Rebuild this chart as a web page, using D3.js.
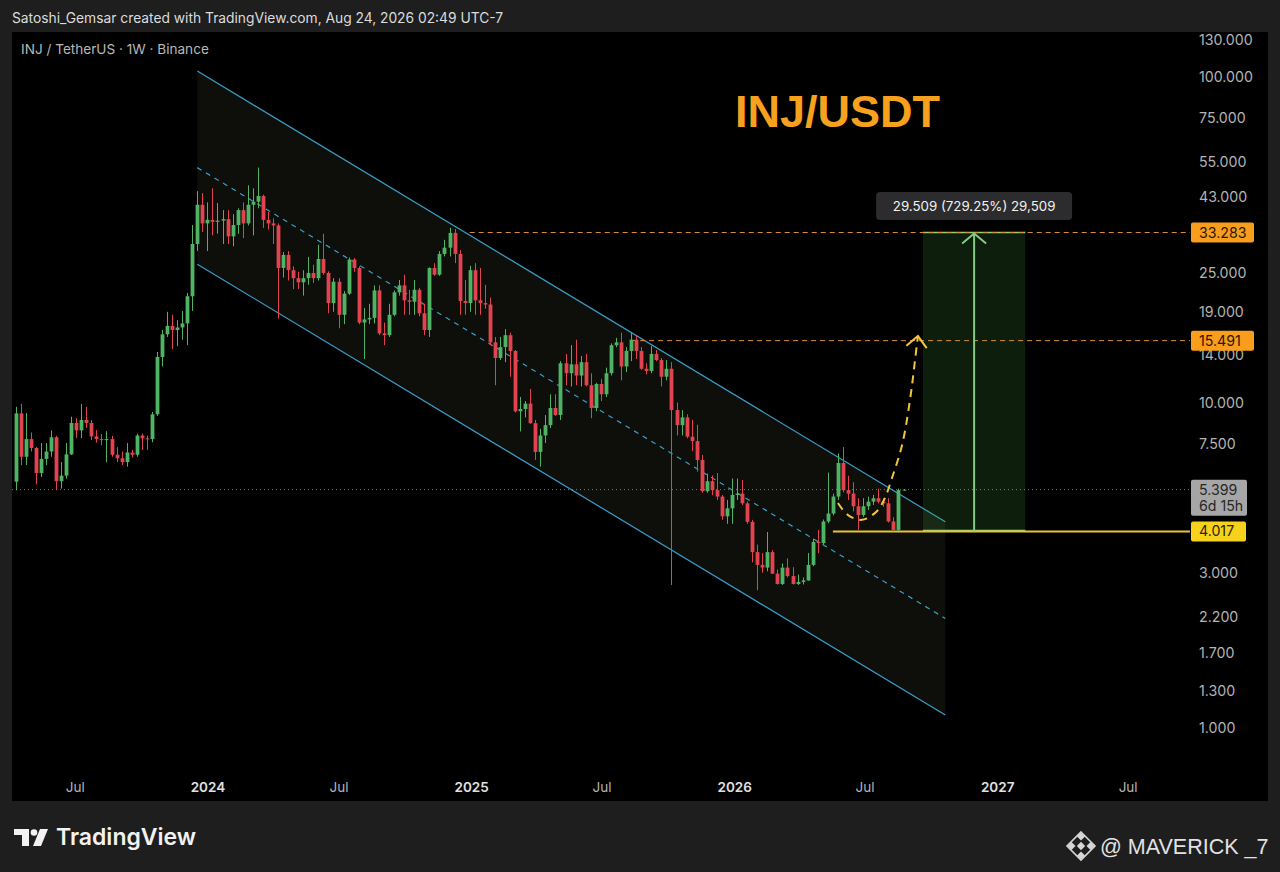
<!DOCTYPE html>
<html>
<head>
<meta charset="utf-8">
<script src="https://cdn.jsdelivr.net/npm/d3@7"></script>
<style>
  body { margin: 0; background: #1e1e1e; }
  svg { display: block; }
</style>
</head>
<body>
<svg id="chart" width="1280" height="872"></svg>
<script>
"use strict";

// ---- data (weekly candles, INJ/USDT, Binance) ----
const firstWeek = "2023-04-10";
const opens = [5.71,9.26,6.81,7.72,7.25,6.07,6.71,7.07,7.82,5.73,5.96,6.93,8.65,8.21,8.84,8.65,7.87,7.72,7.67,7.72,
  6.91,6.74,6.56,7.02,6.91,7.92,7.76,7.72,9.20,13.8,16.2,17.2,16.7,17.0,17.5,21.2,30.7,40.5,35.5,36.4,
  35.9,36.2,36.6,32.4,35.1,39.0,35.5,40.5,41.4,43.1,36.4,35.5,35.0,25.9,28.4,25.5,24.1,23.4,24.1,25.0,
  24.1,27.6,25.0,20.2,23.5,18.6,21.6,27.5,25.9,17.6,18.0,18.2,22.1,16.3,16.1,18.6,21.8,22.9,20.6,20.4,
  22.2,18.8,16.7,25.9,24.7,28.6,29.9,33.2,28.6,20.5,20.2,25.5,20.6,20.2,20.0,15.3,13.7,14.8,16.1,14.4,
  9.40,9.55,9.92,8.64,7.05,7.92,8.52,9.62,9.15,13.2,12.3,13.1,12.1,13.3,11.3,9.62,11.4,10.6,12.3,15.0,
  15.3,12.9,14.4,15.6,14.4,12.7,12.5,14.1,13.5,12.0,12.7,9.48,8.52,9.00,7.85,7.61,6.66,5.34,5.73,5.38,
  5.14,4.47,4.73,5.20,5.25,4.90,4.30,3.47,3.17,3.11,3.47,2.98,2.77,3.11,2.93,2.77,2.81,2.84,3.17,3.73,
  3.70,4.31,4.56,5.14,6.52,5.38,5.25,4.80,4.51,4.80,4.96,5.08,4.96,4.90,4.31,4.06,5.38];
const highs = [9.70,9.90,9.28,8.09,7.30,7.51,7.51,8.21,7.90,6.56,7.51,9.05,8.94,9.90,9.70,8.84,8.23,8.00,8.16,7.90,
  7.29,7.07,7.51,7.15,8.02,8.02,7.92,9.35,14.3,16.7,19.0,18.6,17.9,19.1,21.7,35.1,44.6,44.0,41.2,45.5,
  41.0,39.0,39.0,37.9,39.5,41.2,46.5,45.5,52.7,43.5,38.5,36.8,35.5,29.0,29.2,26.2,25.2,25.5,28.0,26.5,
  30.5,33.0,25.3,24.1,24.1,22.0,27.9,27.8,26.2,19.5,20.1,22.9,22.9,17.6,20.1,22.1,23.8,24.7,22.2,23.8,
  22.5,20.1,26.0,26.8,29.2,31.6,34.4,34.1,29.4,23.8,26.3,26.8,25.9,23.0,21.0,15.9,15.9,16.8,16.4,14.5,
  10.4,10.1,11.0,8.84,8.30,9.15,10.6,10.6,13.4,14.1,15.0,15.6,13.9,14.1,12.3,11.5,11.8,12.8,15.2,15.8,
  16.4,14.8,16.4,16.0,14.8,13.2,14.9,14.5,13.7,13.5,13.3,10.0,9.48,9.20,8.84,8.54,6.90,6.04,5.96,6.07,
  5.20,5.02,5.84,5.84,5.78,4.96,4.36,3.66,3.45,4.00,3.52,3.07,3.20,3.32,3.12,2.96,2.90,3.45,3.82,4.06,
  4.37,6.09,5.25,6.97,7.30,5.96,5.69,5.08,5.08,5.14,5.20,5.44,5.08,5.08,4.44,5.44,5.42];
const lows = [5.38,6.42,6.42,7.07,5.60,5.91,6.42,6.81,5.38,5.44,5.84,6.90,7.78,7.78,8.35,7.67,7.53,7.40,6.56,6.81,
  6.56,6.42,6.35,6.78,6.81,7.15,7.15,7.55,9.10,12.9,15.9,14.6,14.9,15.6,15.0,19.1,29.2,33.4,29.2,32.6,
  33.0,30.7,30.7,30.2,33.0,32.0,35.0,32.6,39.5,34.4,34.0,30.7,18.1,24.2,23.7,22.3,22.3,21.3,23.0,23.3,
  23.7,24.7,18.8,19.0,16.9,17.4,21.4,25.2,17.4,13.6,17.4,17.5,16.1,15.0,15.9,18.4,21.3,18.6,18.6,18.6,
  18.4,16.1,15.9,24.5,24.5,28.1,28.1,26.8,18.6,18.6,19.0,18.6,18.6,19.4,15.0,11.3,13.5,13.3,12.0,9.32,
  8.15,9.00,8.60,6.66,6.35,7.51,8.35,9.10,8.84,11.3,11.2,11.3,11.2,11.2,8.95,9.40,10.1,10.4,12.1,14.8,
  11.7,12.4,13.4,13.6,12.6,12.2,12.3,13.4,11.2,11.7,2.75,7.92,7.92,7.76,7.09,6.13,5.28,5.28,5.19,5.02,
  4.36,4.24,4.24,5.02,4.84,4.24,3.23,2.65,3.00,3.03,2.97,2.76,2.75,2.90,2.76,2.75,2.76,2.83,3.14,3.45,
  3.66,4.26,4.50,5.02,5.30,5.02,4.63,4.06,4.45,4.67,4.84,4.90,4.78,4.28,4.02,4.03,5.36];
const closes = [9.26,6.81,7.72,7.25,6.07,6.71,7.07,7.82,5.73,5.96,6.93,8.65,8.21,8.84,8.65,7.87,7.72,7.67,7.72,6.91,
  6.74,6.56,7.02,6.91,7.92,7.76,7.72,9.20,13.8,16.2,17.2,16.7,17.0,17.5,21.2,30.7,40.5,35.5,36.4,35.9,
  36.2,36.6,32.4,35.1,39.0,35.5,40.5,41.4,43.1,36.4,35.5,35.0,25.9,28.4,25.5,24.1,23.4,24.1,25.0,24.1,
  27.6,25.0,20.2,23.5,18.6,21.6,27.5,25.9,17.6,18.0,18.2,22.1,16.3,16.1,18.6,21.8,22.9,20.6,20.4,22.2,
  18.8,16.7,25.9,24.7,28.6,29.9,33.2,28.6,20.5,20.2,25.5,20.6,20.2,20.0,15.3,13.7,14.8,16.1,14.4,9.40,
  9.55,9.92,8.64,7.05,7.92,8.52,9.62,9.15,13.2,12.3,13.1,12.1,13.3,11.3,9.62,11.4,10.6,12.3,15.0,15.3,
  12.9,14.4,15.6,14.4,12.7,12.5,14.1,13.5,12.0,12.7,9.48,8.52,9.00,7.85,7.61,6.66,5.34,5.73,5.38,5.14,
  4.47,4.73,5.20,5.25,4.90,4.30,3.47,3.17,3.11,3.47,2.98,2.77,3.11,2.93,2.77,2.81,2.84,3.17,3.73,3.70,
  4.31,4.56,5.14,6.52,5.38,5.25,4.80,4.51,4.80,4.96,5.08,4.96,4.90,4.31,4.06,5.38,5.399];

const priceTicks = [130, 100, 75, 55, 43, 25, 19, 14, 10, 7.5, 3, 2.2, 1.7, 1.3, 1];
const timeTicks = ["2023-07-01", "2024-01-01", "2024-07-01", "2025-01-01", "2025-07-01",
  "2026-01-01", "2026-07-01", "2027-01-01", "2027-07-01"];

// drawings (time, price anchors)
const channelTimes = ["2023-12-18", "2026-10-21"];
const channelUpper = [104.3, 4.30];
const channelLower = [26.6, 1.096];
const levelPrices = [33.283, 15.491];
const levelStarts = ["2024-12-30", "2025-08-11"];
const supportPrice = 4.017;
const supportStart = "2026-05-18";
const targetTimes = ["2026-09-20", "2027-02-09"];
const targetPrices = [4.017, 33.283];
const targetText = "29.509 (729.25%) 29,509";
const pathTimes = ["2026-05-25", "2026-06-08", "2026-06-27", "2026-07-17", "2026-07-28",
  "2026-08-08", "2026-08-22", "2026-09-02", "2026-09-09", "2026-09-13"];
const pathPrices = [4.91, 4.51, 4.36, 4.61, 5.02, 5.86, 7.40, 10.18, 13.5, 16.0];
const lastPrice = 5.399;
const countdown = "6d 15h";

// ---- setup ----
const UP = "#4fb364", DOWN = "#e2444f", CHAN = "#3a9fca", ORANGE = "#f7a21e";
const FONT = "Inter, 'Open Sans', sans-serif";
const parse = d3.utcParse("%Y-%m-%d");
const svg = d3.select("#chart");

const x = d3.scaleUtc()
  .domain([parse(firstWeek), d3.utcDay.offset(parse(firstWeek), 7 * (closes.length - 1))])
  .range([15.7, 903.5]);
const y = d3.scaleLog().domain([1, 100]).range([728, 77]);

const candles = closes.map((c, i) => ({
  t: d3.utcDay.offset(parse(firstWeek), 7 * i), o: opens[i], h: highs[i], l: lows[i], c: c
}));

// frame
svg.append("rect").attr("width", 1280).attr("height", 872).attr("fill", "#1e1e1e");
svg.append("rect").attr("x", 12).attr("y", 32).attr("width", 1256).attr("height", 769).attr("fill", "#000");

svg.append("defs").append("clipPath").attr("id", "pane")
  .append("rect").attr("x", 12).attr("y", 32).attr("width", 1178).attr("height", 740);

svg.append("text").attr("x", 12).attr("y", 23)
  .attr("fill", "#dcdcdc").attr("font-family", FONT).attr("font-size", 13.8)
  .text("Satoshi_Gemsar created with TradingView.com, Aug 24, 2026 02:49 UTC-7");

const pane = svg.append("g").attr("clip-path", "url(#pane)");

// channel
const up0 = [x(parse(channelTimes[0])), y(channelUpper[0])], up1 = [x(parse(channelTimes[1])), y(channelUpper[1])];
const lo0 = [x(parse(channelTimes[0])), y(channelLower[0])], lo1 = [x(parse(channelTimes[1])), y(channelLower[1])];
pane.append("path")
  .attr("d", d3.line()([up0, up1, lo1, lo0]) + "Z")
  .attr("fill", "rgba(150,150,120,0.09)");
[[up0, up1], [lo0, lo1]].forEach(s => {
  pane.append("path").attr("d", d3.line()(s)).attr("stroke", CHAN).attr("stroke-width", 1.2).attr("fill", "none");
});
pane.append("path")
  .attr("d", d3.line()([[up0[0], (up0[1] + lo0[1]) / 2], [up1[0], (up1[1] + lo1[1]) / 2]]))
  .attr("stroke", CHAN).attr("stroke-width", 1.2).attr("stroke-dasharray", "5,5").attr("fill", "none");

// current price dotted line
pane.append("line")
  .attr("x1", 12).attr("x2", 1190).attr("y1", y(lastPrice)).attr("y2", y(lastPrice))
  .attr("stroke", "#7a7a7a").attr("stroke-dasharray", "1,3");

// target box
const tx0 = x(parse(targetTimes[0])), tx1 = x(parse(targetTimes[1]));
const ty0 = y(targetPrices[0]), ty1 = y(targetPrices[1]), txm = (tx0 + tx1) / 2;
pane.append("rect").attr("x", tx0).attr("y", ty1).attr("width", tx1 - tx0).attr("height", ty0 - ty1)
  .attr("fill", "rgba(76,175,80,0.17)");
[ty1, ty0 - 1].forEach(v => {
  pane.append("line").attr("x1", tx0).attr("x2", tx1).attr("y1", v).attr("y2", v)
    .attr("stroke", "#8fd47f").attr("stroke-width", 1.5);
});

// horizontal levels
levelPrices.forEach((p, i) => {
  pane.append("line")
    .attr("x1", x(parse(levelStarts[i]))).attr("x2", 1190).attr("y1", y(p)).attr("y2", y(p))
    .attr("stroke", "#d9903a").attr("stroke-dasharray", "5,4");
});
pane.append("line")
  .attr("x1", x(parse(supportStart))).attr("x2", 1190).attr("y1", y(supportPrice)).attr("y2", y(supportPrice))
  .attr("stroke", "#e8c13a").attr("stroke-width", 2);

pane.append("line").attr("x1", txm).attr("x2", txm).attr("y1", ty0).attr("y2", ty1 + 1)
  .attr("stroke", "#85cc82").attr("stroke-width", 2);
pane.append("path").attr("d", d3.line()([[txm - 12, ty1 + 11], [txm, ty1 + 1], [txm + 12, ty1 + 11]]))
  .attr("stroke", "#85cc82").attr("stroke-width", 2).attr("fill", "none");

// candles
const cg = pane.append("g");
cg.selectAll("line.wick").data(candles).join("line")
  .attr("class", "wick")
  .attr("x1", d => Math.round(x(d.t)) + 0.5).attr("x2", d => Math.round(x(d.t)) + 0.5)
  .attr("y1", d => y(d.h)).attr("y2", d => y(d.l))
  .attr("stroke", d => d.c >= d.o ? UP : DOWN);
cg.selectAll("rect.body").data(candles).join("rect")
  .attr("class", "body")
  .attr("x", d => Math.round(x(d.t)) + 0.5 - 1.9).attr("width", 3.8)
  .attr("y", d => y(Math.max(d.o, d.c)))
  .attr("height", d => Math.max(1, Math.abs(y(d.o) - y(d.c))))
  .attr("fill", d => d.c >= d.o ? UP : DOWN);

// projected path
const pts = pathTimes.map((t, i) => [x(parse(t)), y(pathPrices[i])]);
pane.append("path").attr("d", d3.line().curve(d3.curveCatmullRom)(pts))
  .attr("stroke", "#f2c440").attr("stroke-width", 2).attr("stroke-dasharray", "8,6").attr("fill", "none");
const tip = pts[pts.length - 1], prev = pts[pts.length - 3];
const ang = Math.atan2(tip[1] - prev[1], tip[0] - prev[0]);
const arm = a => [tip[0] - 15 * Math.cos(ang + a), tip[1] - 15 * Math.sin(ang + a)];
pane.append("path").attr("d", d3.line()([arm(0.75), tip, arm(-0.75)]))
  .attr("stroke", "#f2c440").attr("stroke-width", 2).attr("fill", "none");

// measurement label
svg.append("rect").attr("x", txm - 98).attr("y", 192).attr("width", 196).attr("height", 28).attr("rx", 4)
  .attr("fill", "#2c2c2e");
svg.append("text").attr("x", txm).attr("y", 211).attr("text-anchor", "middle")
  .attr("fill", "#f2f2f2").attr("font-family", FONT).attr("font-size", 13.3).text(targetText);

// legend + title
svg.append("text").attr("x", 21).attr("y", 54)
  .attr("fill", "#b8b8b8").attr("font-family", FONT).attr("font-size", 13.6)
  .text("INJ / TetherUS · 1W · Binance");
svg.append("text").attr("x", 735).attr("y", 127)
  .attr("fill", ORANGE).attr("font-family", "'Liberation Sans', Arial, sans-serif")
  .attr("font-weight", "bold").attr("font-size", 45).text("INJ/USDT");

// price axis
const yAxis = svg.append("g").attr("transform", "translate(1192,0)")
  .call(d3.axisRight(y).tickValues(priceTicks).tickFormat(d3.format(".3f")).tickSize(0).tickPadding(7));
yAxis.select(".domain").remove();
yAxis.selectAll("text").attr("fill", "#b4b4b4").attr("font-family", FONT).attr("font-size", 14.2)
  .attr("dy", "0.35em");

function priceLabel(p, lines, bg, fg, w) {
  const h = lines.length > 1 ? 36 : 20;
  const top = lines.length > 1 ? y(p) - 10 : y(p) - h / 2;
  svg.append("rect").attr("x", 1191).attr("y", top).attr("width", w).attr("height", h).attr("rx", 2).attr("fill", bg);
  lines.forEach((s, i) => {
    svg.append("text").attr("x", 1199).attr("y", top + 15 + i * 16)
      .attr("fill", fg).attr("font-family", FONT).attr("font-size", 14.2).text(s);
  });
}
priceLabel(levelPrices[0], [d3.format(".3f")(levelPrices[0])], "#f99d1c", "#2b1600", 63);
priceLabel(levelPrices[1], [d3.format(".3f")(levelPrices[1])], "#f99d1c", "#2b1600", 63);
priceLabel(lastPrice, [d3.format(".3f")(lastPrice), countdown], "#a6a6a6", "#262626", 56);
priceLabel(supportPrice, [d3.format(".3f")(supportPrice)], "#f7d21c", "#2a2200", 55);

// time axis
const xAxis = svg.append("g").attr("transform", "translate(0,781)")
  .call(d3.axisBottom(x).tickValues(timeTicks.map(parse)).tickSize(0).tickPadding(0)
    .tickFormat(d => d.getUTCMonth() === 0 ? d3.utcFormat("%Y")(d) : d3.utcFormat("%b")(d)));
xAxis.select(".domain").remove();
xAxis.selectAll("text")
  .attr("font-family", FONT).attr("font-size", 13.5).attr("dy", "0.8em")
  .attr("fill", d => d.getUTCMonth() === 0 ? "#e0e0e0" : "#b4b4b4")
  .attr("font-weight", d => d.getUTCMonth() === 0 ? 600 : 400);

// footer
const logo = svg.append("g").attr("fill", "#f2f2f2");
logo.append("path").attr("d", "M14,829 H29 V846 H22 V835 H14 Z");
logo.append("circle").attr("cx", 34).attr("cy", 832.5).attr("r", 3.3);
logo.append("path").attr("d", "M40,829 H48 L41,846 H33 Z");
svg.append("text").attr("x", 56).attr("y", 845)
  .attr("fill", "#f2f2f2").attr("font-family", FONT).attr("font-weight", 600).attr("font-size", 23)
  .text("TradingView");

const bn = svg.append("g").attr("fill", "#d6d6d6").attr("transform", "translate(1081,846)");
[[0, -9.5, 4], [-9.5, 0, 4], [9.5, 0, 4], [0, 9.5, 4], [0, 0, 4.2]].forEach(([cx, cy, r]) => {
  bn.append("path").attr("d", `M${cx},${cy - r} L${cx + r},${cy} L${cx},${cy + r} L${cx - r},${cy} Z`);
});
bn.append("path").attr("d", "M0,-14 L14,0 L0,14 L-14,0 Z")
  .attr("fill", "none").attr("stroke", "#d6d6d6").attr("stroke-width", 1.6);
svg.append("text").attr("x", 1100).attr("y", 854)
  .attr("fill", "#e2e2e2").attr("font-family", "'Liberation Sans', Arial, sans-serif").attr("font-size", 21.5)
  .text("@ MAVERICK _7");
</script>
</body>
</html>
